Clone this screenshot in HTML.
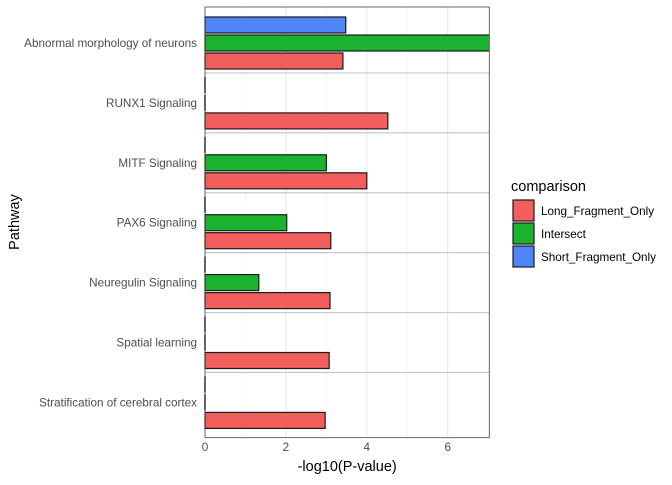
<!DOCTYPE html>
<html><head><meta charset="utf-8"><style>
body{margin:0;background:#fff;font-family:"Liberation Sans",Arial,sans-serif}
svg text{font-family:"Liberation Sans",Arial,sans-serif}
</style></head><body>
<svg id="c" width="672" height="480" xmlns="http://www.w3.org/2000/svg"></svg>
<script>
const categories=["Abnormal morphology of neurons","RUNX1 Signaling","MITF Signaling","PAX6 Signaling","Neuregulin Signaling","Spatial learning","Stratification of cerebral cortex"];
const longVals=[3.41,4.52,4.0,3.11,3.09,3.07,2.97];
const interVals=[7.2,0,3.0,2.02,1.33,0,0];
const shortVals=[3.48,0,0,0,0,0,0];
const xTicks=[0,2,4,6];
const seriesNames=["Long_Fragment_Only","Intersect","Short_Fragment_Only"];
const colorsFill=["#F25E5B","#1AB22E","#4F86F7"];
const NS="http://www.w3.org/2000/svg";
const svg=document.getElementById('c');
const L=205,R=489.3,T=7,B=437.7;
const x=v=>L+v*40.45;
const yc=i=>43+i*59.9;
function el(t,a,p){const e=document.createElementNS(NS,t);for(const k in a)e.setAttribute(k,a[k]);(p||svg).appendChild(e);return e;}
const clip=el('clipPath',{id:'pc'});el('rect',{x:L-2,y:T,width:R-L+2,height:B-T},clip);
for(let v=0;v<=7;v++){const g=el('line',{x1:x(v),x2:x(v),y1:T,y2:B,stroke:v%2?'#f0f0f0':'#e6e6e6','stroke-width':v%2?0.6:1});

}
for(let i=0;i<categories.length-1;i++){const s=el('line',{x1:L,x2:R,y1:yc(i)+29.95,y2:yc(i)+29.95,stroke:'#c8c8c8','stroke-width':1.2});

}
const series=[longVals,interVals,shortVals];
const offs=[18,0,-18];
const g=el('g',{'clip-path':'url(#pc)'});
series.forEach((arr,si)=>{arr.forEach((v,i)=>{
if(v<=0){const z=el('line',{x1:x(0),x2:x(0),y1:yc(i)+offs[si]-8,y2:yc(i)+offs[si]+8,stroke:'#1a1a1a','stroke-width':1.5},g);

return;}
const r=el('rect',{x:x(0),y:yc(i)+offs[si]-8,width:x(v)-x(0),height:16,fill:colorsFill[si],stroke:'#1a1a1a','stroke-width':1.2},g);

});});
const border=el('rect',{x:L,y:T,width:R-L,height:B-T,fill:'none',stroke:'#444','stroke-width':0.8});


categories.forEach((c,i)=>{const t=el('text',{x:197,y:yc(i)+4,'text-anchor':'end','font-size':11.7,fill:'#4d4d4d'});t.textContent=c;

});
xTicks.forEach(v=>{const t=el('text',{x:x(v),y:451,'text-anchor':'middle','font-size':11.7,fill:'#4d4d4d'});t.textContent=v;

});
const xt=el('text',{x:(L+R)/2,y:471,'text-anchor':'middle','font-size':14.5,fill:'#000'});xt.textContent='-log10(P-value)';


const yt=el('text',{x:0,y:0,'text-anchor':'middle','font-size':14.5,fill:'#000',transform:'translate(19,222) rotate(-90)'});yt.textContent='Pathway';


const lt=el('text',{x:511,y:191,'font-size':14.5,fill:'#000'});lt.textContent='comparison';


seriesNames.forEach((n,i)=>{const y0=200+i*23;
const k=el('rect',{x:513,y:y0,width:21,height:21,fill:colorsFill[i],stroke:'#1a1a1a','stroke-width':1.2});


const t=el('text',{x:541,y:y0+15,'font-size':11.7,fill:'#000'});t.textContent=n;

});
</script>
</body></html>
